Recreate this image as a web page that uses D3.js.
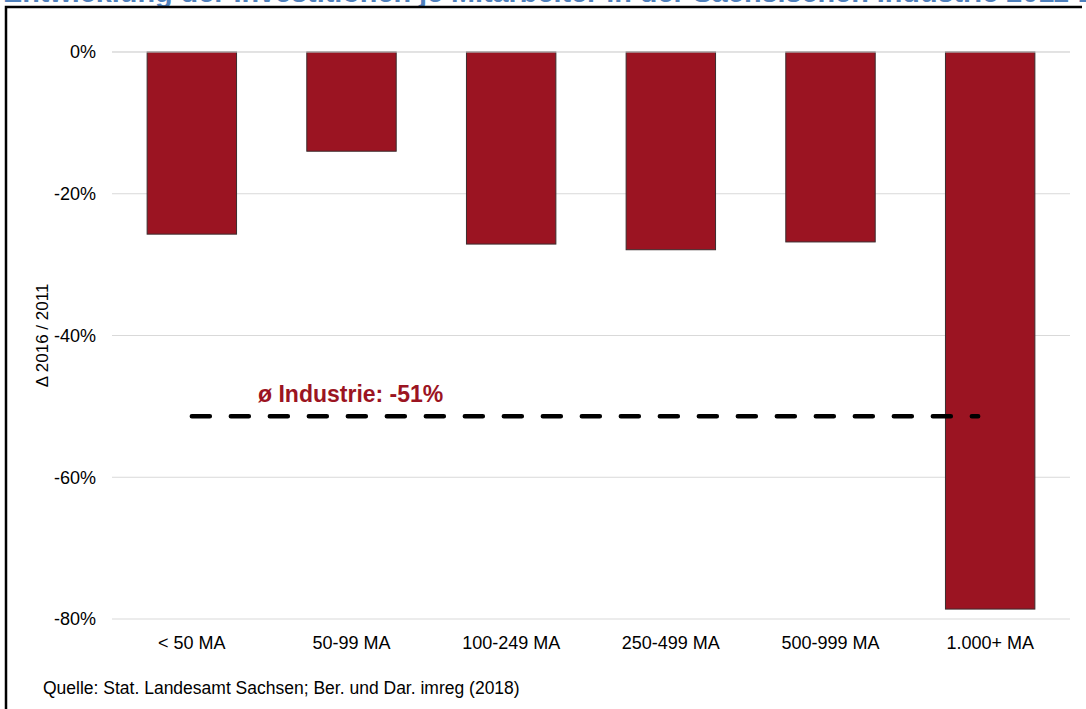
<!DOCTYPE html>
<html><head><meta charset="utf-8">
<script src="https://cdn.jsdelivr.net/npm/d3@7"></script>
<style>body{margin:0;background:#fff;}svg{display:block;font-family:"Liberation Sans",Arial,sans-serif;}</style>
</head><body>
<svg id="c" width="1086" height="709"></svg>
<script>
const categories = ["< 50 MA","50-99 MA","100-249 MA","250-499 MA","500-999 MA","1.000+ MA"];
const values = [-25.7,-14.0,-27.1,-27.9,-26.8,-78.6];
const yTicks = [0,-20,-40,-60,-80];
const average = -51.4;
const averageLabel = "ø Industrie: -51%";
const title = "Entwicklung der Investitionen je Mitarbeiter in der Sächsischen Industrie 2011-2016";
const yLabel = "Δ 2016 / 2011";
const source = "Quelle: Stat. Landesamt Sachsen; Ber. und Dar. imreg (2018)";

const svg = d3.select("#c");
const mL = 112, mR = 1070, mT = 52, mB = 619;
const x = d3.scaleBand().domain(categories).range([mL,mR]).paddingInner(0.44).paddingOuter(0.22);
const y = d3.scaleLinear().domain([0,-80]).range([mT,mB]);

// title (cut off at the top of the picture, as in the reference)
svg.append("text").attr("x",3).attr("y",1.5).attr("font-size",28.8).attr("font-weight","bold")
  .attr("fill","#4F81BD").text(title);
// frame
svg.append("path").attr("d","M6,1000 V7 H1082").attr("fill","none").attr("stroke","#000").attr("stroke-width",2.5);

// grid
svg.append("g").selectAll("line").data(yTicks).join("line")
  .attr("x1",mL).attr("x2",mR).attr("y1",d=>y(d)).attr("y2",d=>y(d))
  .attr("stroke","#d9d9d9").attr("stroke-width",1);

// y axis
const yAxis = svg.append("g").attr("transform",`translate(${mL},0)`)
  .call(d3.axisLeft(y).tickValues(yTicks).tickFormat(d=>d+"%").tickSize(0).tickPadding(16));
yAxis.select(".domain").remove();
yAxis.selectAll("text").attr("font-size",18).attr("fill","#000").attr("font-family","Liberation Sans, Arial");

// bars
svg.append("g").selectAll("rect").data(values).join("rect")
  .attr("x",(d,i)=>x(categories[i])).attr("width",x.bandwidth())
  .attr("y",y(0)).attr("height",d=>y(d)-y(0))
  .attr("fill","#9B1422").attr("stroke","#3b2b2d").attr("stroke-width",1);

// zero line above bars
svg.append("line").attr("x1",mL).attr("x2",mR).attr("y1",y(0)).attr("y2",y(0)).attr("stroke","#d9d9d9");

// x axis
const xAxis = svg.append("g").attr("transform",`translate(0,${mB})`)
  .call(d3.axisBottom(x).tickSize(0).tickPadding(17));
xAxis.select(".domain").remove();
xAxis.selectAll("text").attr("font-size",18).attr("fill","#000").attr("font-family","Liberation Sans, Arial");

// average line
const x0 = x(categories[0]) + x.bandwidth()/2;
const x1 = x(categories[5]) + x.bandwidth()/2 - 12;
svg.append("line").attr("x1",x0).attr("x2",x1).attr("y1",y(average)).attr("y2",y(average))
  .attr("stroke","#000").attr("stroke-width",4.5).attr("stroke-linecap","round").attr("stroke-dasharray","18,21");
svg.append("text").attr("x",258).attr("y",y(average)-14).attr("font-size",23).attr("font-weight","bold")
  .attr("fill","#9B1422").text(averageLabel);

// y label
svg.append("text").attr("transform",`translate(48,${(mT+mB)/2}) rotate(-90)`)
  .attr("text-anchor","middle").attr("font-size",17).text(yLabel);

// source
svg.append("text").attr("x",43).attr("y",694).attr("font-size",17.5).text(source);
</script>
</body></html>
